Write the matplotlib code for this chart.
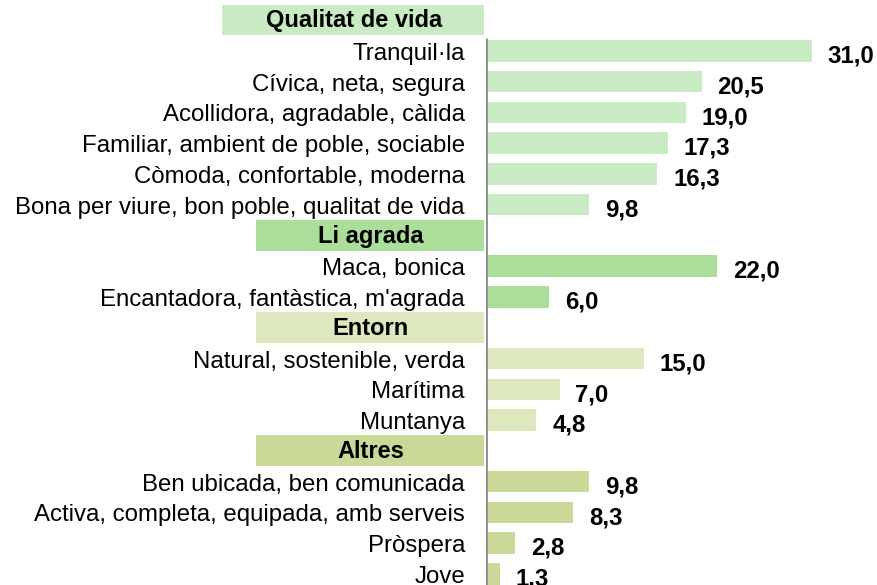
import matplotlib.pyplot as plt

plt.rcParams['font.family'] = ['Liberation Sans', 'DejaVu Sans']

groups = ['Qualitat de vida', 'Li agrada', 'Entorn', 'Altres']
group_colors = ['#C8EBC3', '#ABDD9B', '#DDE8BE', '#CAD998']

labels = [
    ['Tranquil·la', 'Cívica, neta, segura', 'Acollidora, agradable, càlida',
     'Familiar, ambient de poble, sociable', 'Còmoda, confortable, moderna',
     'Bona per viure, bon poble, qualitat de vida'],
    ['Maca, bonica', "Encantadora, fantàstica, m'agrada"],
    ['Natural, sostenible, verda', 'Marítima', 'Muntanya'],
    ['Ben ubicada, ben comunicada', 'Activa, completa, equipada, amb serveis',
     'Pròspera', 'Jove'],
]
values = [
    [31.0, 20.5, 19.0, 17.3, 16.3, 9.8],
    [22.0, 6.0],
    [15.0, 7.0, 4.8],
    [9.8, 8.3, 2.8, 1.3],
]

fig = plt.figure(figsize=(8.78, 5.85), dpi=100)
ax = fig.add_axes([486 / 878, 0, 392 / 878, 1])

row = 0
for g, name in enumerate(groups):
    # header box in the label area
    left = -25.1 if g == 0 else -21.9
    ax.add_patch(plt.Rectangle((left, row - 0.5), -left - 0.15, 1.0,
                               facecolor=group_colors[g], edgecolor='none',
                               clip_on=False))
    ax.text(left / 2, row + 0.03, name, ha='center', va='center', fontsize=17,
            fontweight='bold', clip_on=False)
    row += 1
    for lab, v in zip(labels[g], values[g]):
        ax.barh(row, v, height=0.7, color=group_colors[g])
        ax.text(-2.0, row + 0.1, lab, ha='right', va='center', fontsize=17.3,
                clip_on=False)
        ax.text(v + 1.5, row + 0.17, f'{v:.1f}'.replace('.', ','), ha='left',
                va='center', fontsize=17.3, fontweight='bold')
        row += 1

ax.vlines(0, 0.58, 19, color='#8C8C8C', lw=2)
ax.set_xlim(0, 392 / 10.52)
ax.set_ylim(18.36, -0.65)
ax.axis('off')

fig.savefig('out.png', dpi=100)
